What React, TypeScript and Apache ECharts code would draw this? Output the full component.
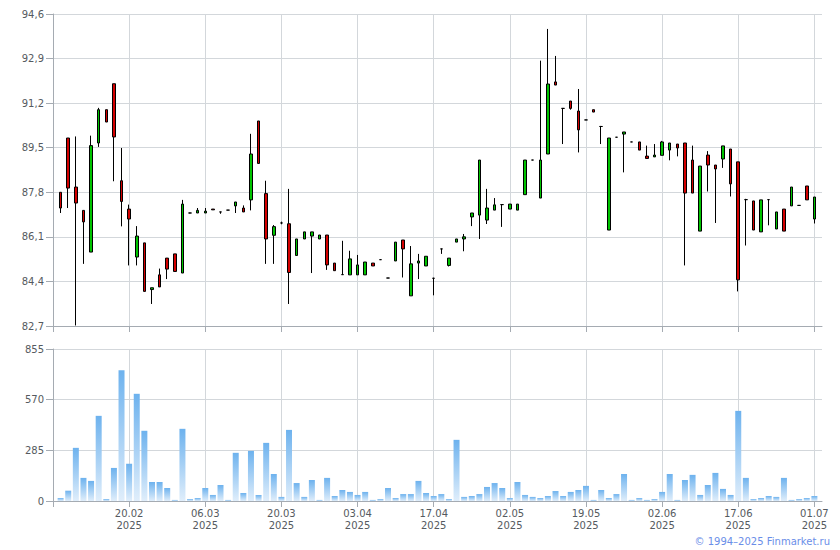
import { useEffect, useRef } from "react";
import * as echarts from "echarts";

// Trading days (dd.mm), year shown under each labelled date
const YEAR = "2025";
const dates = [
  "07.02", "10.02", "11.02", "12.02", "13.02", "14.02", "17.02", "18.02", "19.02", "20.02",
  "21.02", "24.02", "25.02", "26.02", "27.02", "28.02", "03.03", "04.03", "05.03", "06.03",
  "07.03", "10.03", "11.03", "12.03", "13.03", "14.03", "17.03", "18.03", "19.03", "20.03",
  "21.03", "24.03", "25.03", "26.03", "27.03", "28.03", "31.03", "01.04", "02.04", "03.04",
  "04.04", "07.04", "08.04", "09.04", "10.04", "11.04", "14.04", "15.04", "16.04", "17.04",
  "18.04", "21.04", "22.04", "23.04", "24.04", "25.04", "28.04", "29.04", "30.04", "02.05",
  "05.05", "06.05", "07.05", "08.05", "12.05", "13.05", "14.05", "15.05", "16.05", "19.05",
  "20.05", "21.05", "22.05", "23.05", "26.05", "27.05", "28.05", "29.05", "30.05", "02.06",
  "03.06", "04.06", "05.06", "06.06", "09.06", "10.06", "11.06", "13.06", "16.06", "17.06",
  "18.06", "19.06", "20.06", "23.06", "24.06", "25.06", "26.06", "27.06", "30.06", "01.07",
];

const opens = [
  87.8, 89.87, 88.0, 87.11, 85.52, 89.68, 90.95, 91.94, 88.24, 87.16,
  85.33, 85.87, 84.09, 84.65, 85.29, 85.45, 84.72, 87.01, 87.01, 87.01,
  87.16, 87.05, 87.12, 87.28, 87.2, 87.51, 90.52, 87.75, 86.16, 86.63,
  86.6, 85.39, 86.02, 86.13, 86.02, 86.17, 85.1, 84.66, 84.65, 84.65,
  84.65, 85.1, 85.23, 84.53, 85.18, 85.98, 83.85, 85.1, 84.99, 84.52,
  85.64, 85.01, 85.9, 86.02, 86.86, 86.93, 86.74, 87.12, 87.33, 87.16,
  87.12, 87.71, 89.03, 87.58, 89.26, 92.01, 91.0, 91.28, 90.9, 90.56,
  90.95, 90.31, 86.36, 89.9, 90.02, 89.72, 89.72, 89.18, 89.15, 89.21,
  89.41, 89.64, 89.68, 89.03, 86.32, 89.22, 88.84, 89.07, 89.45, 88.96,
  87.52, 87.47, 86.29, 87.52, 86.4, 87.16, 87.28, 87.3, 88.04, 86.78,
];
const closes = [
  87.2, 87.96, 87.39, 86.67, 89.58, 90.95, 90.48, 89.91, 87.45, 86.78,
  86.13, 84.02, 84.16, 84.19, 84.87, 84.78, 87.35, 87.01, 87.11, 87.08,
  87.13, 87.05, 87.12, 87.43, 87.05, 89.26, 88.9, 86.02, 86.49, 86.63,
  84.74, 86.02, 86.29, 86.29, 86.17, 85.03, 84.81, 84.66, 85.26, 85.03,
  85.14, 84.99, 85.23, 84.53, 85.9, 85.64, 85.07, 85.18, 85.36, 84.52,
  85.64, 85.29, 86.02, 86.1, 87.01, 89.03, 87.2, 87.32, 87.33, 87.35,
  87.35, 89.03, 89.03, 89.03, 91.93, 91.89, 91.0, 91.0, 90.18, 90.56,
  90.86, 90.31, 89.87, 89.9, 90.1, 89.72, 89.41, 89.09, 89.22, 89.72,
  89.68, 89.49, 87.77, 87.77, 88.8, 88.84, 88.69, 89.57, 88.12, 84.46,
  87.52, 86.36, 87.51, 87.52, 87.05, 86.32, 88.0, 87.3, 87.51, 87.62,
];
const lows = [
  87.01, 87.2, 82.72, 85.07, 85.52, 89.53, 90.48, 88.22, 86.5, 85.01,
  85.01, 84.02, 83.54, 84.19, 84.49, 84.78, 84.72, 87.0, 87.01, 87.01,
  87.13, 86.98, 87.12, 87.01, 87.05, 87.11, 88.9, 85.07, 85.07, 86.58,
  83.54, 85.39, 86.02, 84.72, 86.02, 84.84, 84.81, 84.66, 84.65, 84.65,
  84.65, 84.99, 85.23, 84.53, 85.18, 84.55, 83.85, 84.49, 84.99, 83.87,
  85.45, 84.97, 85.9, 85.55, 86.51, 86.02, 86.59, 87.12, 86.48, 87.16,
  87.12, 87.71, 89.03, 87.58, 89.26, 91.89, 89.64, 90.95, 89.32, 90.56,
  90.86, 89.64, 86.36, 89.9, 88.56, 89.72, 89.41, 89.09, 89.15, 89.21,
  89.02, 89.17, 85.01, 87.77, 86.32, 87.83, 86.63, 88.73, 87.64, 84.02,
  85.77, 86.36, 86.29, 86.54, 86.4, 86.32, 87.28, 87.3, 87.51, 86.61,
];
const highs = [
  87.8, 89.87, 89.93, 87.11, 89.96, 91.02, 90.95, 91.94, 89.49, 87.33,
  86.51, 85.87, 84.16, 84.89, 85.29, 85.45, 87.51, 87.02, 87.2, 87.2,
  87.16, 87.05, 87.12, 87.43, 87.3, 90.03, 90.52, 88.24, 86.55, 86.68,
  87.93, 86.02, 86.29, 86.29, 86.17, 86.17, 85.1, 85.95, 85.57, 85.41,
  85.14, 85.1, 85.23, 84.53, 85.9, 85.98, 85.75, 85.45, 85.36, 84.54,
  85.64, 85.29, 86.02, 86.21, 87.01, 89.03, 87.93, 87.58, 87.33, 87.35,
  87.35, 89.03, 89.03, 92.82, 94.03, 93.0, 91.0, 91.28, 91.74, 90.56,
  90.95, 90.33, 89.87, 89.9, 90.1, 89.72, 89.72, 89.58, 89.64, 89.76,
  89.68, 89.64, 89.68, 89.58, 88.8, 89.37, 88.84, 89.57, 89.45, 88.96,
  87.55, 87.47, 87.51, 87.52, 87.05, 87.16, 88.0, 87.3, 88.04, 87.62,
];

const volumes = [
  17, 58, 299, 130, 113, 479, 11, 186, 735, 209,
  603, 395, 107, 107, 73, 6, 406, 11, 17, 73,
  34, 90, 6, 271, 45, 282, 34, 327, 152, 23,
  400, 101, 23, 118, 6, 130, 28, 62, 51, 34,
  51, 6, 11, 73, 17, 39, 39, 113, 45, 28,
  39, 11, 344, 23, 28, 39, 79, 101, 73, 17,
  107, 34, 23, 17, 28, 56, 28, 51, 62, 85,
  6, 62, 17, 39, 152, 6, 17, 6, 11, 51,
  152, 6, 118, 147, 34, 90, 158, 68, 34, 507,
  130, 11, 17, 28, 23, 130, 6, 11, 17, 28,
];

// Axis ranges / tick steps
const PRICE_MIN = 82.7;
const PRICE_MAX = 94.6;
const PRICE_STEP = 1.7;
const VOLUME_MAX = 855;
const VOLUME_STEP = 285;
const LABEL_EVERY = 10;

const COPYRIGHT = "© 1994–2025 Finmarket.ru";

const UP = "#00c400";
const DOWN = "#d40000";
const GRID_LINE = "#d3d7db";
const AXIS_LINE = "#a5abb2";
const LABEL = "#555a60";
const FONT = "DejaVu Sans";

export default function App() {
  const ref = useRef<HTMLDivElement>(null);

  useEffect(() => {
    if (!ref.current) return;
    const chart = echarts.init(ref.current, undefined, { renderer: "svg" });

    // one blank slot on each side so the first and last candles sit off the frame
    const categories = ["", ...dates, ""];
    const candles: any[] = ["-"];
    for (let i = 0; i < dates.length; i++) {
      candles.push([opens[i], closes[i], lows[i], highs[i]]);
    }
    candles.push("-");
    const vols: any[] = ["-", ...volumes, "-"];

    const isLabelled = (idx: number) => idx > 0 && idx % LABEL_EVERY === 0;
    const isTick = (idx: number) => idx % LABEL_EVERY === 0 && idx < categories.length - 1;

    const xCommon = (gridIndex: number, showLabel: boolean) => ({
      type: "category",
      gridIndex,
      data: categories,
      boundaryGap: false,
      axisLine: { show: true, lineStyle: { color: AXIS_LINE, width: 1 } },
      axisTick: {
        show: true,
        interval: (idx: number) => isTick(idx),
        length: 6,
        lineStyle: { color: AXIS_LINE },
      },
      axisLabel: {
        show: showLabel,
        interval: (idx: number) => isLabelled(idx),
        formatter: (v: string) => (v ? `${v}\n${YEAR}` : ""),
        color: LABEL,
        fontFamily: FONT,
        fontSize: 10,
        lineHeight: 12,
        margin: 6,
      },
      splitLine: {
        show: true,
        interval: (idx: number) => isLabelled(idx),
        lineStyle: { color: GRID_LINE, width: 1 },
      },
    });

    const yCommon = {
      axisLine: { show: true, lineStyle: { color: AXIS_LINE, width: 1 } },
      axisTick: { show: true, length: 7, lineStyle: { color: AXIS_LINE } },
      splitLine: { show: true, lineStyle: { color: GRID_LINE, width: 1 } },
    };

    chart.setOption({
      animation: false,
      backgroundColor: "#ffffff",
      grid: [
        { left: 53, top: 14, width: 769, height: 312 },
        { left: 53, top: 349, width: 769, height: 152 },
      ],
      xAxis: [xCommon(0, false), xCommon(1, true)],
      yAxis: [
        {
          type: "value",
          gridIndex: 0,
          min: PRICE_MIN,
          max: PRICE_MAX,
          interval: PRICE_STEP,
          ...yCommon,
          axisLabel: {
            color: LABEL,
            fontFamily: FONT,
            fontSize: 10,
            margin: 9,
            formatter: (v: number) => v.toFixed(1).replace(".", ","),
          },
        },
        {
          type: "value",
          gridIndex: 1,
          min: 0,
          max: VOLUME_MAX,
          interval: VOLUME_STEP,
          ...yCommon,
          axisLabel: {
            color: LABEL,
            fontFamily: FONT,
            fontSize: 10,
            margin: 9,
            formatter: (v: number) => String(Math.round(v)),
          },
        },
      ],
      series: [
        {
          type: "candlestick",
          xAxisIndex: 0,
          yAxisIndex: 0,
          data: candles,
          barWidth: 3,
          itemStyle: {
            color: UP,
            color0: DOWN,
            borderColor: "#000000",
            borderColor0: "#000000",
            borderColorDoji: "#000000",
            borderWidth: 1,
          },
        },
        {
          type: "bar",
          xAxisIndex: 1,
          yAxisIndex: 1,
          data: vols,
          barWidth: 6,
          itemStyle: {
            color: new echarts.graphic.LinearGradient(0, 0, 0, 1, [
              { offset: 0, color: "#6db2ee" },
              { offset: 1, color: "#e0eefb" },
            ]),
          },
        },
      ],
      graphic: [
        {
          type: "text",
          right: 10,
          top: 536,
          style: {
            text: COPYRIGHT,
            fill: "#6a8ee8",
            font: `10px "${FONT}"`,
          },
        },
      ],
    });

    return () => chart.dispose();
  }, []);

  return (
    <div
      ref={ref}
      style={{ position: "absolute", left: 0, top: 0, width: 840, height: 550, background: "#fff" }}
    />
  );
}
